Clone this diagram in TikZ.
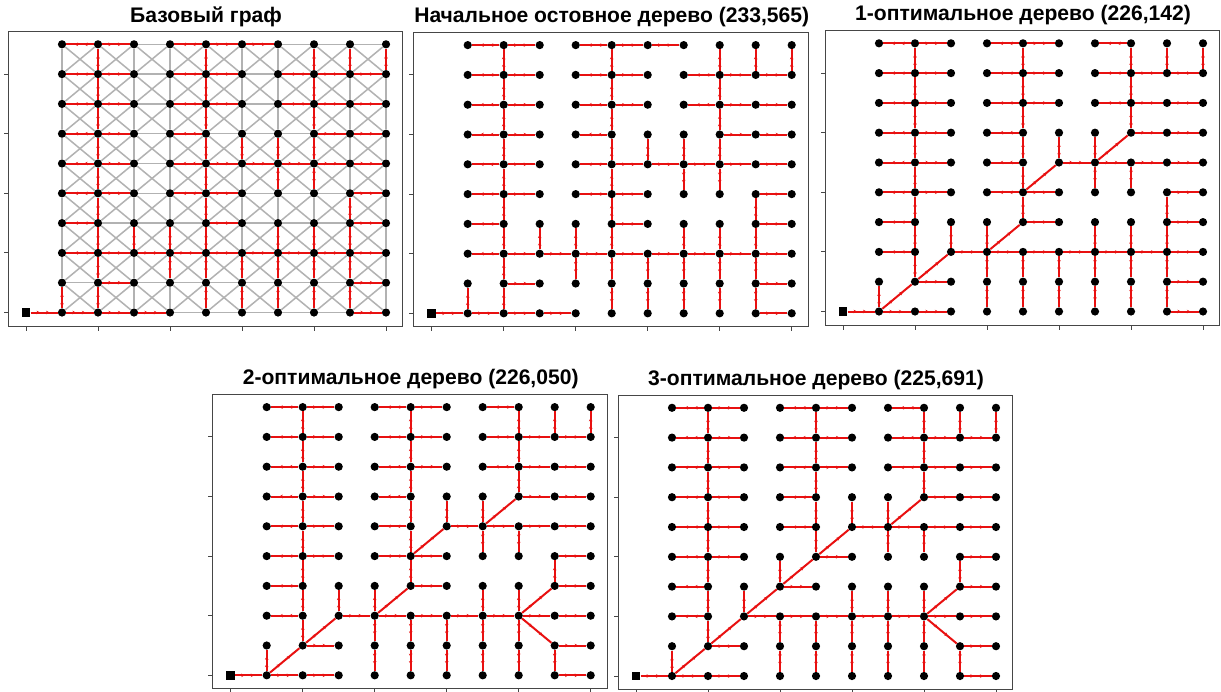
\documentclass[tikz,border=0pt]{standalone}
\usepackage{fontspec}
\setmainfont{Liberation Sans}
\usetikzlibrary{decorations.markings,arrows.meta}

\definecolor{treered}{RGB}{232,16,16}
\definecolor{basegray}{RGB}{178,178,178}
\definecolor{framegray}{RGB}{70,70,70}

\tikzset{
  vtx/.style={circle, fill=black, inner sep=0pt, minimum size=7pt},
  rootvtx/.style={rectangle, fill=black, inner sep=0pt, minimum size=7.5pt},
  baseedge/.style={basegray, line width=1.3pt},
  treeedge/.style={treered, line width=1.7pt,
    postaction={decorate, decoration={markings,
      mark=at position 0.35 with {\arrow{Stealth[length=3pt,width=3pt]}},
      mark=at position 0.7 with {\arrow{Stealth[length=3pt,width=3pt]}}}}},
  paneltitle/.style={font=\bfseries\fontsize{18}{20}\selectfont},
  panelframe/.style={framegray, line width=0.8pt}
}

% frame, ticks, title and the 10x10 vertices of one panel
\newcommand{\gridpanel}[2]{%
  \draw[panelframe] (-18,13.5) rectangle (376.5,-281);
  \foreach \j in {0,2,...,8} \draw[panelframe] (-18,-\j*29.8) -- (-22.5,-\j*29.8);
  \foreach \i in {0,2,...,10} \draw[panelframe] (\i*36,13.5) -- (\i*36,18);
  \node[paneltitle] (#1-title) at (180,-296) {#2};
  \foreach \i in {1,...,10}
    \foreach \j in {0,...,9}
      \node[vtx] (#1-\i-\j) at (\i*36,-\j*29.8) {};
  \node[rootvtx] (#1-0-0) at (0,0) {};
}

% initial spanning tree (parent/child)
\def\treeinit{0-0/1-0, 1-0/2-0, 2-0/3-0, 3-0/4-0, 1-0/1-1,
  2-0/2-1, 2-1/2-2, 2-2/2-3, 2-3/2-4, 2-4/2-5, 2-5/2-6, 2-6/2-7, 2-7/2-8, 2-8/2-9,
  2-1/3-1, 2-2/1-2, 2-3/1-3, 2-4/1-4, 2-5/1-5, 2-6/1-6, 2-7/1-7, 2-8/1-8, 2-9/1-9,
  2-4/3-4, 2-5/3-5, 2-6/3-6, 2-7/3-7, 2-8/3-8, 2-9/3-9,
  2-2/3-2, 3-2/4-2, 4-2/5-2, 5-2/6-2, 6-2/7-2, 7-2/8-2, 8-2/9-2, 9-2/10-2,
  3-2/3-3, 4-2/4-1, 4-2/4-3,
  5-2/5-1, 5-1/5-0, 5-2/5-3, 5-3/5-4, 5-4/5-5, 5-5/5-6, 5-6/5-7, 5-7/5-8, 5-8/5-9,
  6-2/6-1, 6-1/6-0, 7-2/7-1, 7-1/7-0, 7-2/7-3, 8-2/8-1, 8-1/8-0, 8-2/8-3,
  9-2/9-1, 9-1/9-0, 9-2/9-3, 9-3/9-4, 9-0/10-0, 9-1/10-1, 9-3/10-3, 9-4/10-4,
  5-3/6-3, 5-4/4-4, 5-4/6-4, 5-5/4-5, 5-5/6-5, 6-5/7-5, 7-5/8-5, 8-5/9-5, 9-5/10-5,
  5-6/4-6, 5-7/4-7, 5-7/6-7, 5-8/4-8, 5-8/6-8, 5-9/4-9, 5-9/6-9, 6-9/7-9,
  6-5/6-6, 7-5/7-4, 7-5/7-6, 8-5/8-4, 8-5/8-6, 8-6/8-7, 8-7/8-8, 8-8/8-9,
  8-6/9-6, 9-6/10-6, 8-7/7-7, 8-7/9-7, 9-7/10-7, 8-8/7-8, 8-8/9-8, 9-8/10-8, 9-8/9-9, 10-8/10-9}

% edges shared by the 1-, 2- and 3-optimal trees
\def\treeopt{0-0/1-0, 1-0/2-0, 2-0/3-0, 1-0/1-1, 1-0/2-1, 2-1/3-1,
  2-1/2-2, 2-2/2-3, 2-3/2-4, 2-4/2-5, 2-5/2-6, 2-6/2-7, 2-7/2-8, 2-8/2-9,
  2-2/1-2, 2-3/1-3, 2-4/1-4, 2-5/1-5, 2-6/1-6, 2-7/1-7, 2-8/1-8, 2-9/1-9,
  2-4/3-4, 2-5/3-5, 2-6/3-6, 2-7/3-7, 2-8/3-8, 2-9/3-9,
  2-1/3-2, 3-2/3-3, 3-2/4-2, 4-2/5-2, 5-2/6-2, 6-2/7-2, 7-2/8-2, 8-2/9-2, 9-2/10-2,
  4-2/4-1, 4-1/4-0,
  5-4/5-5, 5-5/5-6, 5-6/5-7, 5-7/5-8, 5-8/5-9,
  5-4/6-5, 5-4/6-4,
  6-5/7-5, 7-5/8-5, 8-5/9-5, 9-5/10-5, 6-5/6-6,
  7-5/8-6, 7-5/7-4, 7-5/7-6, 8-5/8-4,
  8-6/8-7, 8-7/8-8, 8-8/8-9, 8-6/9-6, 9-6/10-6,
  8-7/7-7, 8-7/9-7, 9-7/10-7, 8-8/7-8, 8-8/9-8, 9-8/10-8, 9-8/9-9, 10-8/10-9, 8-9/7-9,
  5-2/5-1, 5-1/5-0, 6-2/6-1, 6-1/6-0, 7-2/7-1, 7-1/7-0, 7-2/7-3, 8-2/8-1, 8-1/8-0, 8-2/8-3,
  9-1/9-0, 9-3/9-4, 9-0/10-0, 9-1/10-1, 9-3/10-3, 9-4/10-4,
  5-5/4-5, 5-6/4-6, 5-7/4-7, 5-7/6-7, 5-8/4-8, 5-8/6-8, 5-9/4-9, 5-9/6-9}
\def\treeoptone{9-2/9-1, 9-2/9-3, 4-2/4-3, 4-2/5-3, 5-3/5-4, 5-3/6-3, 5-4/4-4}
\def\treeopttwo{8-2/9-1, 8-2/9-3, 4-2/4-3, 4-2/5-3, 5-3/5-4, 5-3/6-3, 5-4/4-4}
\def\treeoptthree{8-2/9-1, 8-2/9-3, 3-2/4-3, 4-3/5-4, 4-3/4-4, 4-3/5-3, 6-2/6-3}

\begin{document}
\begin{tikzpicture}[x=0.03cm, y=-0.03cm]
  \useasboundingbox (0,0) rectangle (1221,691);

  % Base graph
  \begin{scope}[shift={(26,312.5)}]
    \gridpanel{A}{Базовый граф}
    \foreach \i in {1,...,9} {
      \pgfmathtruncatemacro{\ii}{\i+1}
      \foreach \j in {0,...,9}
        \draw[baseedge] (A-\i-\j) -- (A-\ii-\j);
    }
    \foreach \i in {1,...,10}
      \foreach \j in {0,...,8} {
        \pgfmathtruncatemacro{\jj}{\j+1}
        \draw[baseedge] (A-\i-\j) -- (A-\i-\jj);
      }
    \foreach \i in {1,...,9}
      \foreach \j in {0,...,8} {
        \pgfmathtruncatemacro{\ii}{\i+1}
        \pgfmathtruncatemacro{\jj}{\j+1}
        \draw[baseedge] (A-\i-\j) -- (A-\ii-\jj);
        \draw[baseedge] (A-\ii-\j) -- (A-\i-\jj);
      }
    \foreach \a/\b in \treeinit \draw[treeedge] (A-\a) -- (A-\b);
  \end{scope}

  % Initial spanning tree
  \begin{scope}[shift={(431.7,313.3)}]
    \gridpanel{B}{Начальное остовное дерево (233,565)}
    \foreach \a/\b in \treeinit \draw[treeedge] (B-\a) -- (B-\b);
  \end{scope}

  % 1-optimal tree
  \begin{scope}[shift={(843,311.5)}]
    \gridpanel{C}{1-оптимальное дерево (226,142)}
    \foreach \a/\b in \treeopt \draw[treeedge] (C-\a) -- (C-\b);
    \foreach \a/\b in \treeoptone \draw[treeedge] (C-\a) -- (C-\b);
  \end{scope}

  % 2-optimal tree
  \begin{scope}[shift={(230.7,675.3)}]
    \gridpanel{D}{2-оптимальное дерево (226,050)}
    \foreach \a/\b in \treeopt \draw[treeedge] (D-\a) -- (D-\b);
    \foreach \a/\b in \treeopttwo \draw[treeedge] (D-\a) -- (D-\b);
  \end{scope}

  % 3-optimal tree
  \begin{scope}[shift={(636,676)}]
    \gridpanel{E}{3-оптимальное дерево (225,691)}
    \foreach \a/\b in \treeopt \draw[treeedge] (E-\a) -- (E-\b);
    \foreach \a/\b in \treeoptthree \draw[treeedge] (E-\a) -- (E-\b);
  \end{scope}
\end{tikzpicture}
\end{document}
